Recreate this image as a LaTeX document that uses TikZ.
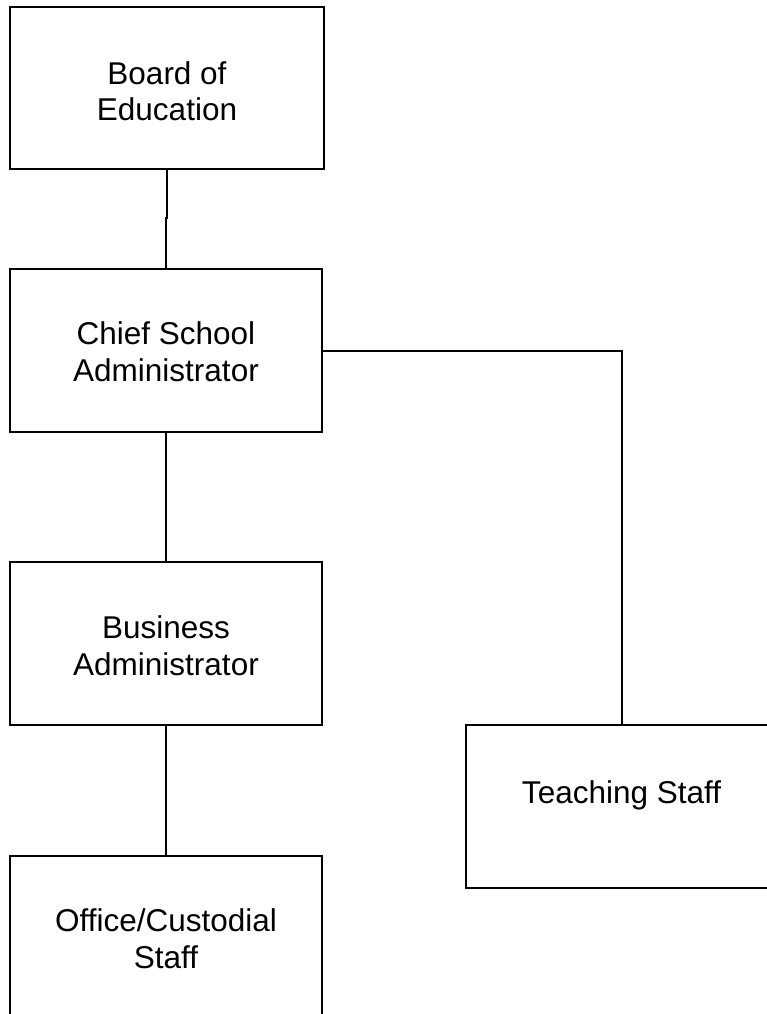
\documentclass[tikz,border=0pt]{standalone}
\usepackage{fontspec}
\setmainfont{Liberation Sans}
\begin{document}
\begin{tikzpicture}[x=1pt,y=-1pt,line width=2pt,
  box/.style={draw=black,rectangle,inner sep=0pt,minimum width=312pt,minimum height=163pt},
  lbl/.style={inner sep=0pt,align=center,anchor=base,font=\fontsize{31.5}{36.5}\selectfont},
  conn/.style={draw=black,line width=2pt}]
\clip (0,0) rectangle (767,1014);
\node[box,minimum width=314pt,minimum height=162pt] (board) at (167,88) {};
\node[box] (csa) at (166,350.5) {};
\node[box] (bus) at (166,643.5) {};
\node[box] (office) at (166,937.5) {};
\node[box,minimum width=312pt] (teach) at (622,806.5) {};
\node[lbl] (tboard) at (167,121) {Board of\\Education};
\node[lbl] (tcsa) at (166,381) {Chief School\\Administrator};
\node[lbl] (tbus) at (166,675) {Business\\Administrator};
\node[lbl] (toffice) at (166,968) {Office/Custodial\\Staff};
\node[lbl] (tteach) at (621.5,803) {Teaching Staff};
\coordinate (jog) at (167,218);
\draw[conn] (board.south) -- (jog) -- ++(-1,0) -- (csa.north);
\draw[conn] (csa.east) -| (teach.north);
\draw[conn] (csa.south) -- (bus.north);
\draw[conn] (bus.south) -- (office.north);
\end{tikzpicture}
\end{document}
